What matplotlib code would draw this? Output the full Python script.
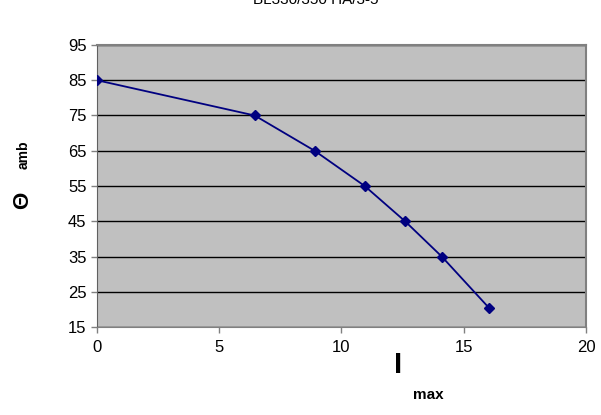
import matplotlib
matplotlib.use("Agg")
import matplotlib.pyplot as plt

plt.rcParams['font.family'] = ['Liberation Sans', 'DejaVu Sans']

# Data
i_max = [0, 6.45, 8.9, 10.95, 12.6, 14.1, 16.05]
theta_amb = [85, 75, 65, 55, 45, 35, 20.3]
x_ticks = [0, 5, 10, 15, 20]
y_ticks = [15, 25, 35, 45, 55, 65, 75, 85, 95]

fig = plt.figure(figsize=(6.01, 4.15), dpi=100)
ax = fig.add_axes([0.1614, 0.212, 0.8136, 0.6796])
ax.set_facecolor('#c0c0c0')

ax.plot(i_max, theta_amb, color='#000080', linewidth=1.3,
        marker='D', markersize=5, zorder=3)

ax.set_xlim(0, 20)
ax.set_ylim(15, 95)
ax.set_xticks(x_ticks)
ax.set_yticks(y_ticks)
ax.tick_params(labelsize=12, length=4, width=1, color='#808080')
ax.tick_params(axis='x', pad=5)
ax.grid(axis='y', color='black', linewidth=1)
ax.set_axisbelow(True)

for side in ['top', 'right']:
    ax.spines[side].set_color('#808080')
    ax.spines[side].set_linewidth(1.5)
ax.spines['left'].set_color('#606060')
ax.spines['bottom'].set_color('#808080')

# title, cut off at the top of the image as in the original
fig.text(0.525, 1.0, 'BL330/350 HA/3-5', ha='center', va='center',
         fontsize=11)

# axis labels
fig.text(0.037, 0.518, 'Θ', rotation=90, ha='center', va='center',
         fontsize=16, fontweight='bold')
fig.text(0.04, 0.627, 'amb', rotation=90, ha='center', va='center',
         fontsize=10, fontweight='bold')
fig.text(0.662, 0.12, 'I', ha='center', va='center',
         fontsize=21, fontweight='bold')
fig.text(0.712, 0.048, 'max', ha='center', va='center',
         fontsize=11, fontweight='bold')

fig.savefig('out.png', dpi=100)
